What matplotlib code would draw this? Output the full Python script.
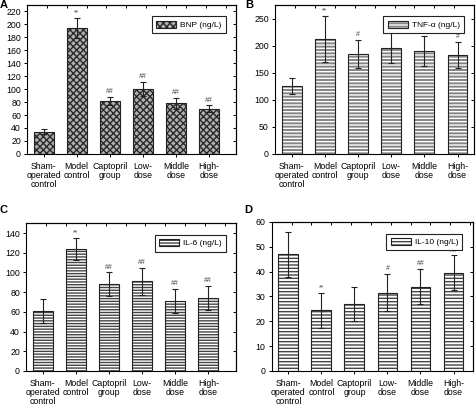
import matplotlib.pyplot as plt
import numpy as np
from matplotlib.patches import Rectangle

plt.rcParams['font.family'] = ['Liberation Sans', 'DejaVu Sans']
plt.rcParams['hatch.linewidth'] = 1.0

cats = ['Sham-\noperated\ncontrol', 'Model\ncontrol', 'Captopril\ngroup',
        'Low-\ndose', 'Middle\ndose', 'High-\ndose']

# BNP (A)
bnp = [34, 194, 82, 100, 78, 70]
bnp_err = [4, 15, 6, 11, 9, 5]
bnp_sig = ['', '**', '##', '##', '##', '##']

# TNF-a (B)
tnf = [126, 213, 185, 197, 191, 183]
tnf_err = [15, 42, 26, 29, 28, 24]
tnf_sig = ['', '**', '#', '', '', '#']

# IL-6 (C)
il6 = [61, 124, 88, 91, 71, 74]
il6_err = [12, 11, 12, 14, 12, 12]
il6_sig = ['', '**', '##', '##', '##', '##']

# IL-10 (D)
il10 = [47, 24.5, 27, 31.5, 34, 39.5]
il10_err = [9, 7, 7, 7.5, 7, 7]
il10_sig = ['', '**', '', '#', '##', '##']

fig = plt.figure(figsize=(4.76, 4.05), dpi=100)

panels = [
    # rect, vals, errs, sigs, legend, ylim, yticks, xmax, face, hatchcol, hatch, letter, pos
    ([0.057, 0.620, 0.439, 0.368], bnp, bnp_err, bnp_sig, 'BNP (ng/L)',
     230, np.arange(0, 221, 20), 5.82, '#b0b0b0', '#2a2a2a', 'xxxxx', 'A', (0.0, 0.999)),
    ([0.578, 0.620, 0.418, 0.368], tnf, tnf_err, tnf_sig, u'TNF-\u03b1 (ng/L)',
     276, np.arange(0, 251, 50), 5.5, '#858585', '#ffffff', '-----', 'B', (0.515, 0.999)),
    ([0.055, 0.084, 0.441, 0.365], il6, il6_err, il6_sig, 'IL-6 (ng/L)',
     150, np.arange(0, 141, 20), 5.84, '#ffffff', '#444444', '------', 'C', (0.0, 0.495)),
    ([0.571, 0.084, 0.422, 0.368], il10, il10_err, il10_sig, 'IL-10 (ng/L)',
     60, np.arange(0, 61, 10), 5.58, '#ffffff', '#444444', '-----', 'D', (0.513, 0.495)),
]

x = np.arange(len(cats))

for rect, vals, errs, sigs, lab, ytop, yt, xmax, face, hcol, hatch, letter, lpos in panels:
    ax = fig.add_axes(rect)
    # hatched fill first, then outline on top
    ax.bar(x, vals, width=0.6, color=face, edgecolor=hcol, hatch=hatch,
           linewidth=0, zorder=2)
    ax.bar(x, vals, width=0.6, fill=False, edgecolor='#222222', linewidth=0.8,
           zorder=3)
    ax.errorbar(x, vals, yerr=errs, fmt='none', ecolor='#222222', elinewidth=0.8,
                capsize=2.2, capthick=0.8, zorder=4)
    for xi, v, e, s in zip(x, vals, errs, sigs):
        if s:
            ax.text(xi, v + e + ytop * 0.012, s, ha='center', va='bottom',
                    fontsize=5, color='#444444')
    ax.set_xlim(-0.5, xmax)
    ax.set_ylim(0, ytop)
    ax.set_yticks(yt)
    ax.set_xticks(x)
    ax.set_xticklabels(cats, fontsize=6.3, linespacing=1.05)
    ax.tick_params(axis='y', labelsize=6.3, length=2.5, width=0.7, pad=2)
    ax.tick_params(axis='x', length=2.5, width=0.7, pad=3)
    for sp in ax.spines.values():
        sp.set_linewidth(0.8)
    sec = ax.secondary_yaxis('right')
    sec.set_yticks(yt[1:])
    sec.tick_params(direction='in', length=2.5, width=0.7, labelright=False)
    secx = ax.secondary_xaxis('top')
    secx.set_xticks(np.arange(-0.5, xmax, 0.6)[1:])
    secx.tick_params(direction='in', length=2, width=0.7, labeltop=False)

    # legend patch drawn like the bars
    h = Rectangle((0, 0), 1, 1, facecolor=face, edgecolor=hcol, hatch=hatch, linewidth=0)
    h2 = Rectangle((0, 0), 1, 1, fill=False, edgecolor='#222222', linewidth=0.8)
    leg = ax.legend([(h, h2)], [lab], loc='upper right', fontsize=6,
                    fancybox=False, edgecolor='#222222', framealpha=1,
                    handlelength=2.4, handleheight=1.0, borderpad=0.5,
                    handletextpad=0.5, bbox_to_anchor=(0.97, 0.95))
    leg.get_frame().set_linewidth(0.8)

    fig.text(lpos[0], lpos[1], letter, fontsize=8, fontweight='bold',
             ha='left', va='top')

fig.savefig('out.png', dpi=100)
